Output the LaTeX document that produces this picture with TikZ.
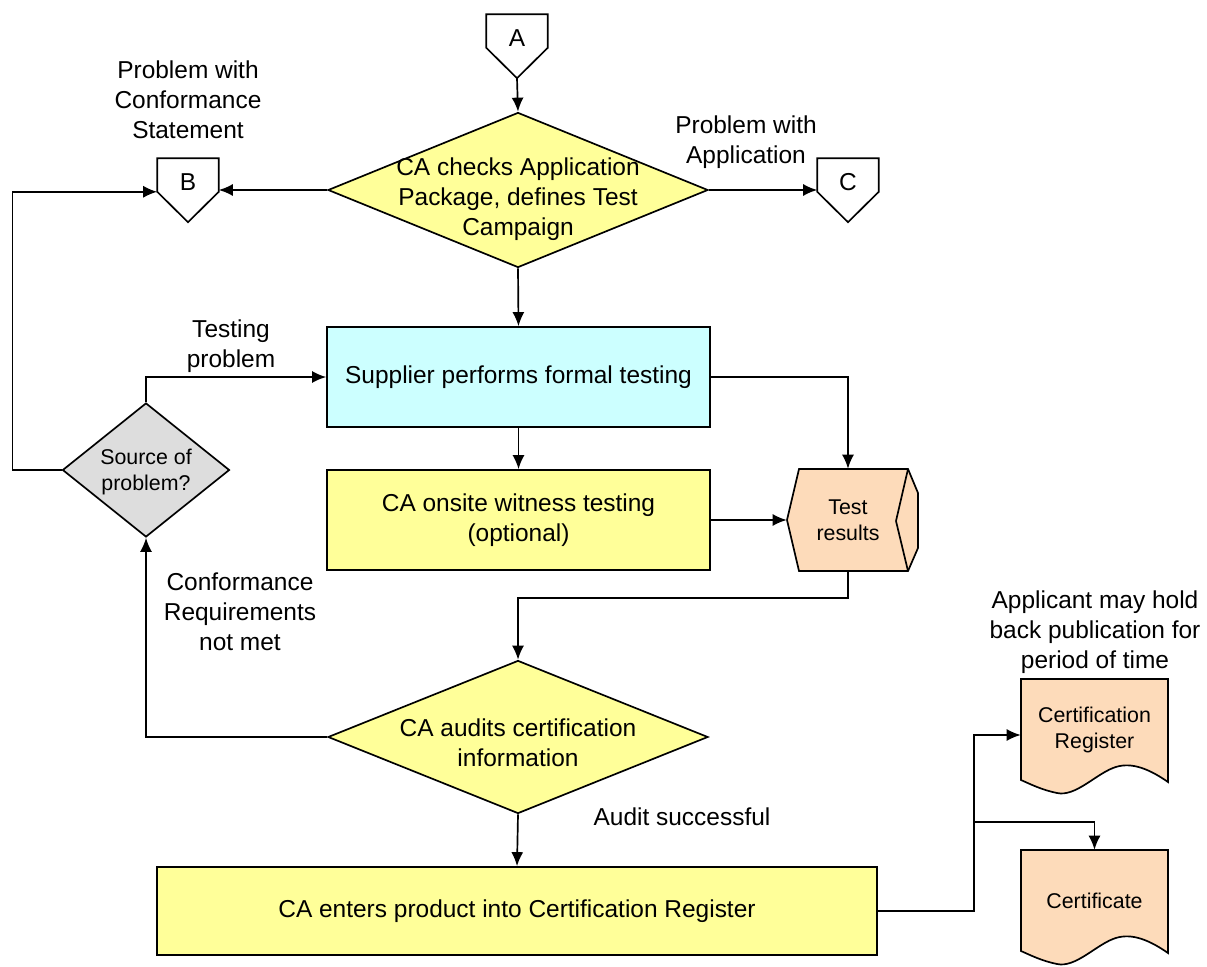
\documentclass[tikz,border=0pt]{standalone}
\usepackage{fontspec}
\setmainfont{Liberation Sans}
\usetikzlibrary{arrows.meta}
\usetikzlibrary{shapes.geometric}

\definecolor{paleyellow}{RGB}{255,255,153}
\definecolor{palecyan}{RGB}{204,255,255}
\definecolor{greybox}{RGB}{221,221,221}
\definecolor{peach}{RGB}{253,219,186}

\tikzset{
  big/.style={font=\fontsize{17.4}{21.3}\selectfont},
  small/.style={font=\fontsize{15.2}{18.8}\selectfont},
  line/.style={line width=1.2pt},
  box/.style={rectangle,draw=black,line,big,align=center},
  decision/.style={diamond,draw=black,line,inner sep=0pt},
  offpage/.style={rectangle,big,inner sep=0pt,text height=7.9mm,text depth=0pt,minimum width=15.25mm,minimum height=8.25mm},
  note/.style={big,align=center},
  flow/.style={-{Latex[length=3.5mm,width=3mm]},line},
}

\begin{document}
\begin{tikzpicture}[x=0.25mm,y=-0.25mm]
\useasboundingbox (0,0) rectangle (1207,967);

% shapes drawn by hand
\filldraw[line,fill=peach] (799,469) -- (908,469) -- (918,493) -- (918,548) -- (908,571) -- (799,571) -- (787,520) -- cycle;
\draw[line] (908,469) -- (896,521) -- (908,571);
\foreach \dy in {0,171}
  \filldraw[line,fill=peach] (1021,{679+\dy}) -- (1168,{679+\dy}) -- (1168,{782+\dy})
    .. controls (1145,{766+\dy}) and (1128,{762+\dy}) .. (1113,{768+\dy})
    .. controls (1095,{775+\dy}) and (1075,{797+\dy}) .. (1057,{793+\dy})
    .. controls (1042,{790+\dy}) and (1030,{784+\dy}) .. (1021,{780+\dy}) -- cycle;

% off-page connectors
\node(A) at (517,31) [offpage]{A};
\node(B) at (188,175) [offpage]{B};
\node(C) at (848,175) [offpage]{C};
\foreach \n in {A,B,C}
  \draw[line] (\n.north west) -- (\n.north east) -- (\n.south east) -- ([yshift=-7.6mm]\n.south) -- (\n.south west) -- cycle;

% decisions
\node(D1) at (518,190) [decision,fill=paleyellow,minimum width=95mm,minimum height=38.75mm,
  label={[big,align=center,yshift=-2.2mm]center:{CA checks Application\\Package, defines Test\\Campaign}}]{};
\node(Q) at (146,470) [decision,fill=greybox,minimum width=41.75mm,minimum height=33.5mm,
  label={[small,align=center,yshift=-0.5mm]center:{Source of\\problem?}}]{};
\node(D2) at (518,737) [decision,fill=paleyellow,minimum width=95mm,minimum height=38.25mm,
  label={[big,align=center,yshift=-1.5mm]center:{CA audits certification\\information}}]{};

% process boxes
\node(S) at (518.5,377) [box,fill=palecyan,minimum width=95.75mm,minimum height=25mm]{Supplier performs formal testing};
\node(W) at (518.5,520) [box,fill=paleyellow,minimum width=95.75mm,minimum height=25mm]{CA onsite witness testing\\(optional)};
\node(F) at (517,911) [box,fill=paleyellow,minimum width=180mm,minimum height=22mm]{CA enters product into Certification Register};

% data and documents
\node(TR) at (848,520) [small,align=center,minimum width=30.5mm,minimum height=25.5mm]{Test\\results};
\node(CR) at (1094.5,730) [small,align=center,minimum width=36.75mm,minimum height=25.5mm]{Certification\\Register};
\node(CT) at (1094.5,901) [small,align=center,minimum width=36.75mm,minimum height=25.5mm]{Certificate};

% labels
\node(L1) at (188,100) [note]{Problem with\\Conformance\\Statement};
\node(L2) at (746,142) [note]{Problem with\\Application};
\node(L3) at (231,346) [note]{Testing\\problem};
\node(L4) at (240,612) [note]{Conformance\\Requirements\\not met};
\node(L5) at (682,817) [note]{Audit successful};
\node(L6) at (1095,632) [note]{Applicant may hold\\back publication for\\period of time};

% connectors
\draw[flow] ([yshift=-7.6mm]A.south) -- (D1.north);
\draw[flow] (D1.west) -- (D1.west -| B.east);
\draw[flow] (D1.east) -- (D1.east -| C.west);
\draw[flow] (D1.south) -- (S.north);
\draw[flow] (S.south) -- (W.north);
\draw[flow] (S.east) -| (TR.north);
\draw[flow] (W.east) -- (TR.west);
\draw[flow] (TR.south) -- ++(0,27) -| (D2.north);
\draw[flow] (D2.west) -| (Q.south);
\draw[flow] (Q.north) |- (S.west);
\draw[flow] (Q.west) -- ++(-49,0) |- (B.south west);
\draw[flow] (D2.south) -- (F.north);
\draw[flow] (F.east) -- ++(96,0) |- ([yshift=-1.25mm]CR.west);
\coordinate (J) at (973,822);
\draw[flow] (J) -| (CT.north);
\end{tikzpicture}
\end{document}
